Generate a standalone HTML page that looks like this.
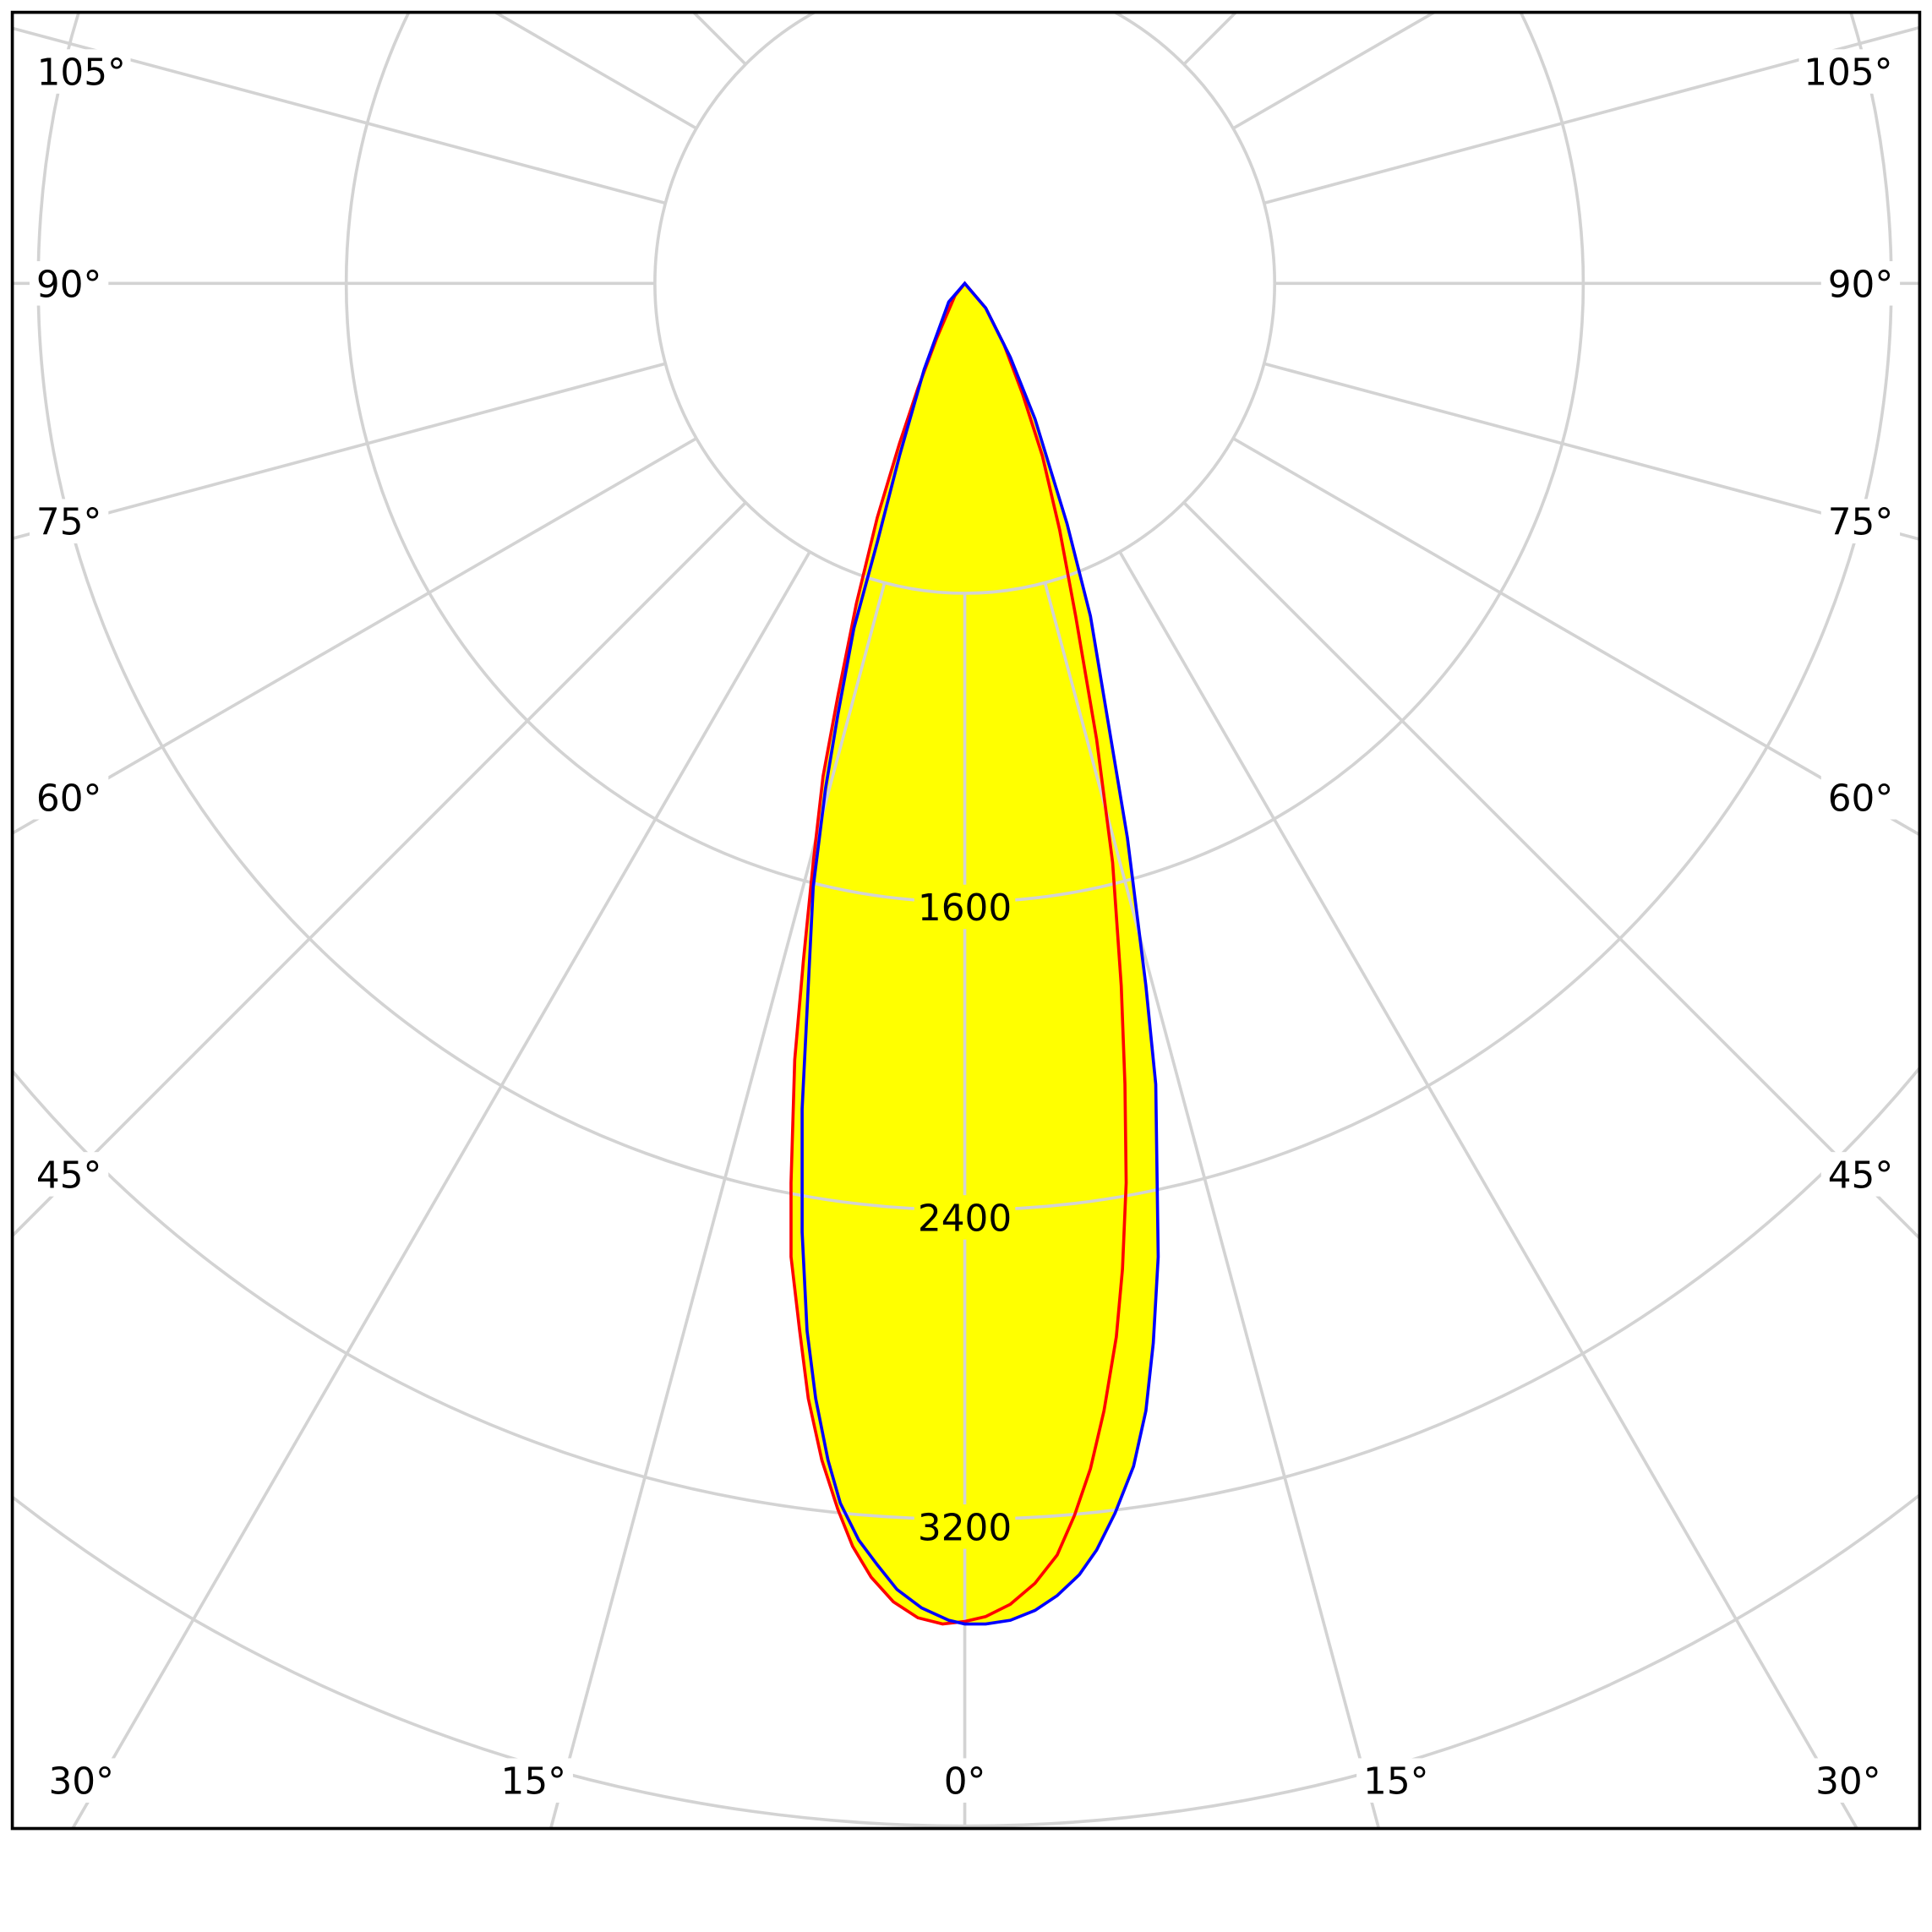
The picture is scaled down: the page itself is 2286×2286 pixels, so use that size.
<!DOCTYPE html>
<html><head><meta charset="utf-8"><style>html,body{margin:0;padding:0;background:#fff;width:2286px;height:2286px;overflow:hidden}svg{display:block}</style></head>
<body>
<svg width="2286" height="2286" viewBox="0 0 1568 1568" xmlns="http://www.w3.org/2000/svg">
<defs>
<clipPath id="c"><rect x="10" y="10" width="1548" height="1474"/></clipPath>
<mask id="m" maskUnits="userSpaceOnUse" x="0" y="0" width="1568" height="1568">
<rect x="0" y="0" width="1568" height="1568" fill="#fff"/>
<g fill="#000">
<rect x="742" y="718" width="82" height="36"/><rect x="742" y="970" width="82" height="36"/><rect x="742" y="1221" width="82" height="36"/>
<rect x="26" y="40" width="80" height="36"/><rect x="24" y="212" width="64" height="36"/><rect x="24" y="405" width="64" height="36"/><rect x="24" y="629" width="64" height="36"/><rect x="24" y="935" width="64" height="36"/>
<rect x="1460" y="40" width="80" height="36"/><rect x="1478" y="212" width="64" height="36"/><rect x="1478" y="405" width="64" height="36"/><rect x="1478" y="629" width="64" height="36"/><rect x="1478" y="935" width="64" height="36"/>
<rect x="34" y="1427" width="64" height="36"/><rect x="401" y="1427" width="64" height="36"/><rect x="760" y="1427" width="46" height="36"/><rect x="1101" y="1427" width="64" height="36"/><rect x="1468" y="1427" width="64" height="36"/>
</g>
</mask>
</defs>
<g clip-path="url(#c)">
<polygon fill="#ffff00" points="783,230 800,250 820,290 840,340 866,425 885,500 900,590 915,680 930,800 938,880 940,1020 936,1090 930,1145 920,1190 905,1228 890,1258 876,1278 858,1295 840,1307 820,1315 800,1318 783,1318 770,1315 748,1305 728,1290 712,1270 697,1250 682,1220 672,1185 662,1135 655,1080 651,1000 651,900 655,820 660,720 670,640 680,580 693,510 712,440 730,370 750,300 770,245"/>
<polygon fill="#ffff00" points="783,230 800,250 815,280 830,320 846,370 860,430 873,500 890,600 903,700 910,800 913,880 914,960 911,1030 906,1085 896,1145 885,1192 872,1230 858,1262 840,1285 820,1302 800,1312 783,1316 765,1318 745,1313 725,1300 707,1280 692,1255 680,1225 667,1185 656,1135 649,1080 642,1020 642,960 645,860 652,780 660,700 668,630 680,565 695,490 712,420 730,360 745,315 760,275 775,240"/>
<g fill="none" stroke="#d3d3d3" stroke-width="2.5" mask="url(#m)">
<circle cx="783" cy="230" r="251.5"/>
<circle cx="783" cy="230" r="502"/>
<circle cx="783" cy="230" r="752"/>
<circle cx="783" cy="230" r="1003"/>
<circle cx="783" cy="230" r="1252"/>
<circle cx="783" cy="230" r="1503"/>
<line x1="783" y1="481.5" x2="783" y2="2230"/>
<line x1="848.1" y1="472.9" x2="1300.6" y2="2161.8"/>
<line x1="908.8" y1="447.8" x2="1783" y2="1962"/>
<line x1="960.8" y1="407.8" x2="2197" y2="1644"/>
<line x1="1000.8" y1="355.8" x2="2515" y2="1230"/>
<line x1="1025.9" y1="295.1" x2="2714.8" y2="747.6"/>
<line x1="1034.5" y1="230" x2="2783" y2="230"/>
<line x1="1025.9" y1="164.9" x2="2714.8" y2="-287.6"/>
<line x1="1000.8" y1="104.2" x2="2515" y2="-770"/>
<line x1="960.8" y1="52.2" x2="2197" y2="-1184"/>
<line x1="717.9" y1="472.9" x2="265.4" y2="2161.8"/>
<line x1="657.2" y1="447.8" x2="-217" y2="1962"/>
<line x1="605.2" y1="407.8" x2="-631" y2="1644"/>
<line x1="565.2" y1="355.8" x2="-949" y2="1230"/>
<line x1="540.1" y1="295.1" x2="-1148.8" y2="747.6"/>
<line x1="531.5" y1="230" x2="-1217" y2="230"/>
<line x1="540.1" y1="164.9" x2="-1148.8" y2="-287.6"/>
<line x1="565.2" y1="104.2" x2="-949" y2="-770"/>
<line x1="605.2" y1="52.2" x2="-631" y2="-1184"/>
</g>
<polygon fill="none" stroke="#ff0000" stroke-width="2.5" points="783,230 800,250 815,280 830,320 846,370 860,430 873,500 890,600 903,700 910,800 913,880 914,960 911,1030 906,1085 896,1145 885,1192 872,1230 858,1262 840,1285 820,1302 800,1312 783,1316 765,1318 745,1313 725,1300 707,1280 692,1255 680,1225 667,1185 656,1135 649,1080 642,1020 642,960 645,860 652,780 660,700 668,630 680,565 695,490 712,420 730,360 745,315 760,275 775,240"/>
<polygon fill="none" stroke="#0000ff" stroke-width="2.5" points="783,230 800,250 820,290 840,340 866,425 885,500 900,590 915,680 930,800 938,880 940,1020 936,1090 930,1145 920,1190 905,1228 890,1258 876,1278 858,1295 840,1307 820,1315 800,1318 783,1318 770,1315 748,1305 728,1290 712,1270 697,1250 682,1220 672,1185 662,1135 655,1080 651,1000 651,900 655,820 660,720 670,640 680,580 693,510 712,440 730,370 750,300 770,245"/>
</g>
<g font-family="DejaVu Sans, Liberation Sans, sans-serif" font-size="30" text-anchor="middle" fill="#000">
<text x="783" y="747">1600</text>
<text x="783" y="999">2400</text>
<text x="783" y="1250">3200</text>
<text x="66" y="69">105°</text><text x="56" y="241">90°</text><text x="56" y="434">75°</text><text x="56" y="658">60°</text><text x="56" y="964">45°</text>
<text x="1500" y="69">105°</text><text x="1510" y="241">90°</text><text x="1510" y="434">75°</text><text x="1510" y="658">60°</text><text x="1510" y="964">45°</text>
<text x="66" y="1456">30°</text><text x="433" y="1456">15°</text><text x="783" y="1456">0°</text><text x="1133" y="1456">15°</text><text x="1500" y="1456">30°</text>
</g>
<rect x="10" y="10" width="1548" height="1474" fill="none" stroke="#000" stroke-width="2.5"/>
</svg>
</body></html>
